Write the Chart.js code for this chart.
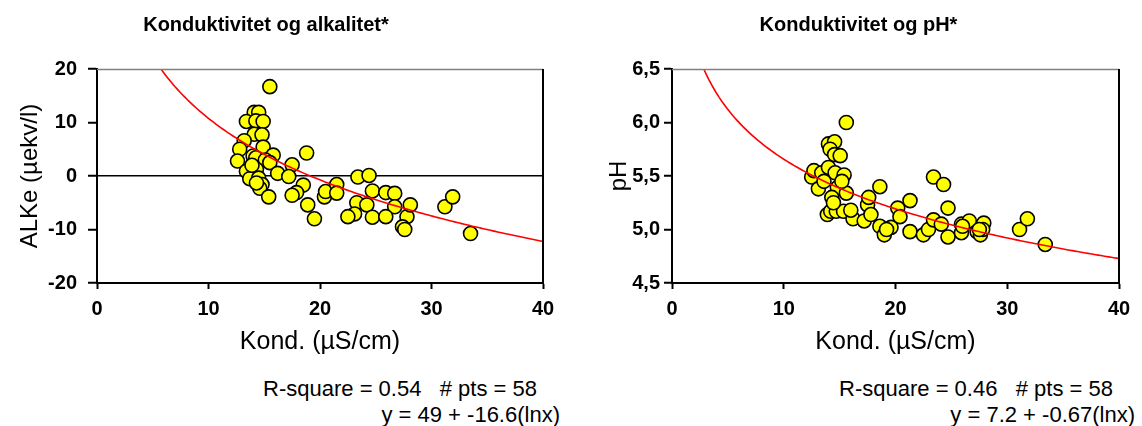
<!DOCTYPE html>
<html>
<head>
<meta charset="utf-8">
<script src="https://cdn.jsdelivr.net/npm/chart.js@4.4.1/dist/chart.umd.min.js"></script>
<style>
  body { margin: 0; background: #fff; width: 1142px; height: 426px; overflow: hidden; position: relative;
         font-family: "Liberation Sans", Arial, sans-serif; }
  .box { position: absolute; top: 0; height: 360px; }
  .note { position: absolute; font-size: 22px; color: #000; white-space: pre; line-height: 26px; text-align: right; }
</style>
</head>
<body>
<div class="box" style="left:-11px; width:566px"><canvas id="alkChart" width="566" height="360"></canvas></div>
<div class="box" style="left:598px; width:544px"><canvas id="phChart" width="544" height="360"></canvas></div>

<div class="note" style="right:605px; top:376px">R-square = 0.54   # pts = 58</div>
<div class="note" style="right:582px; top:402px">y = 49 + -16.6(lnx)</div>
<div class="note" style="right:29px; top:376px">R-square = 0.46   # pts = 58</div>
<div class="note" style="right:7px; top:402px">y = 7.2 + -0.67(lnx)</div>

<script>
// Conductivity (µS/cm) vs. alkalinity ALKe (µekv/l)
const kondAlk = [15.5, 14.1, 14.5, 13.4, 14.25, 14.9, 14.1, 14.8, 13.2, 12.8,
                 14.9, 14.0, 14.25, 15.8, 15.1, 15.5, 12.6, 13.4, 14.3, 13.7,
                 14.5, 14.8, 14.6, 15.4, 16.2, 17.5, 17.2, 18.8, 18.5, 17.9,
                 17.5, 18.9, 19.5, 20.4, 20.5, 21.5, 21.5, 23.4, 24.4, 24.7,
                 23.3, 23.1, 22.5, 24.2, 24.7, 25.9, 26.7, 26.7, 25.9, 27.8,
                 28.1, 27.4, 27.6, 31.2, 31.9, 33.5, 14.3, 13.9];
const alke    = [16.7, 11.9, 11.9, 10.2, 10.3, 10.2, 7.8, 7.7, 6.6, 5.0,
                 5.4, 3.75, 3.4, 3.9, 3.0, 2.5, 2.8, 0.9, 1.25, -0.5,
                 -0.4, -1.6, -2.3, -3.9, 0.5, 2.1, -0.1, 4.3, -1.7, -3.1,
                 -3.6, -5.4, -8.0, -3.9, -2.9, -1.6, -3.2, -0.2, 0.1, -2.8,
                 -5.0, -7.1, -7.6, -5.4, -7.7, -3.1, -3.25, -5.75, -7.6, -7.6,
                 -5.4, -9.5, -10.0, -5.75, -3.9, -10.75, -1.3, 2.0];

// Conductivity (µS/cm) vs. pH
const kondPH = [15.6, 14.0, 14.55, 14.15, 14.55, 15.05, 12.5, 12.7, 13.4, 14.0,
                14.6, 15.4, 13.1, 14.8, 15.6, 14.3, 13.9, 14.2, 14.7, 15.35,
                16.2, 17.2, 17.5, 17.6, 17.8, 18.6, 18.6, 19.0, 19.6, 20.2,
                20.4, 21.3, 21.3, 22.5, 22.95, 23.4, 23.4, 24.1, 24.3, 24.7,
                24.7, 25.9, 25.9, 26.6, 27.3, 27.6, 27.9, 27.8, 31.1, 31.8,
                33.4, 14.45, 13.6, 15.2, 16.0, 19.2, 26.0, 27.5];
const ph     = [6.00, 5.80, 5.82, 5.75, 5.70, 5.69, 5.49, 5.55, 5.53, 5.58,
                5.53, 5.51, 5.38, 5.39, 5.34, 5.30, 5.14, 5.17, 5.17, 5.17,
                5.10, 5.08, 5.23, 5.30, 5.14, 5.40, 5.03, 4.95, 5.02, 5.20,
                5.12, 5.27, 4.98, 4.95, 5.00, 5.49, 5.09, 5.05, 5.42, 5.20,
                4.93, 5.05, 4.97, 5.08, 4.98, 4.95, 5.06, 5.00, 5.00, 5.10,
                4.86, 5.25, 5.45, 5.45, 5.18, 5.00, 5.03, 5.00];

// Logarithmic fits y = a + b*ln(x) as given under each chart
const fitAlk = { a: 49, b: -16.6 };
const fitPH  = { a: 7.2, b: -0.67 };

// Axis ranges and tick labels
const xTicks = [0, 10, 20, 30, 40];
const alkTicks = [-20, -10, 0, 10, 20];
const phTicks = [4.5, 5.0, 5.5, 6.0, 6.5];

const FONT = '"Liberation Sans", Arial, sans-serif';

function curve(fit, yMax, xMax) {
  const x0 = Math.exp((yMax - fit.a) / fit.b);
  const pts = [];
  const n = 160;
  for (let i = 0; i <= n; i++) {
    const x = x0 + (xMax - x0) * i / n;
    pts.push({ x: x, y: fit.a + fit.b * Math.log(x) });
  }
  return pts;
}

function toPoints(xs, ys) { return xs.map((x, i) => ({ x: x, y: ys[i] })); }

// Plot-area frame: thin grey top edge and black right edge
const framePlugin = {
  id: 'frame',
  afterDraw(chart) {
    const { ctx, chartArea: a } = chart;
    ctx.save();
    ctx.strokeStyle = '#808080';
    ctx.lineWidth = 1.5;
    ctx.beginPath();
    ctx.moveTo(a.left, a.top + 0.5);
    ctx.lineTo(a.right, a.top + 0.5);
    ctx.stroke();
    ctx.strokeStyle = '#000';
    ctx.lineWidth = 2;
    ctx.beginPath();
    ctx.moveTo(a.right, a.top);
    ctx.lineTo(a.right, a.bottom);
    ctx.stroke();
    ctx.restore();
  }
};

function makeChart(id, cfg) {
  const yTicks = cfg.yTicks;
  return new Chart(document.getElementById(id), {
    type: 'scatter',
    data: {
      datasets: [
        {
          data: curve(cfg.fit, yTicks[yTicks.length - 1], xTicks[xTicks.length - 1]),
          showLine: true,
          borderColor: '#ff0000',
          borderWidth: 1.6,
          pointRadius: 0,
          fill: false,
          tension: 0
        },
        {
          data: toPoints(cfg.xs, cfg.ys),
          pointRadius: 7,
          pointBackgroundColor: '#ffff00',
          pointBorderColor: '#000',
          pointBorderWidth: 1.6,
          showLine: false
        }
      ]
    },
    options: {
      responsive: false,
      animation: false,
      layout: { padding: { left: 0, right: cfg.padRight, top: 0, bottom: 0 } },
      plugins: {
        legend: { display: false },
        tooltip: { enabled: false },
        title: {
          display: true,
          text: cfg.title,
          color: '#000',
          font: { family: FONT, size: 20, weight: 'bold', lineHeight: 1.2 },
          padding: { top: 13, bottom: 32 }
        }
      },
      scales: {
        x: {
          type: 'linear',
          min: xTicks[0],
          max: xTicks[xTicks.length - 1],
          afterBuildTicks: s => { s.ticks = xTicks.map(v => ({ value: v })); },
          ticks: {
            color: '#000',
            font: { family: FONT, size: 20, weight: 'bold' },
            padding: 8,
            maxRotation: 0,
            callback: v => String(v)
          },
          grid: { drawOnChartArea: false, tickLength: 6, tickColor: '#000', tickWidth: 2 },
          border: { color: '#000', width: 2 },
          title: {
            display: true,
            text: 'Kond. (µS/cm)',
            color: '#000',
            font: { family: FONT, size: 25, lineHeight: 1.2 },
            padding: { top: 0, bottom: 3 }
          },
          afterFit: s => { s.height = 77; s.paddingLeft = 0; s.paddingRight = 0; }
        },
        y: {
          type: 'linear',
          min: yTicks[0],
          max: yTicks[yTicks.length - 1],
          afterBuildTicks: s => { s.ticks = yTicks.map(v => ({ value: v })); },
          ticks: {
            color: '#000',
            font: { family: FONT, size: 20, weight: 'bold' },
            padding: cfg.tickPad,
            callback: cfg.fmt
          },
          grid: {
            drawOnChartArea: cfg.zeroLine,
            color: c => (cfg.zeroLine && c.tick && c.tick.value === 0) ? '#000' : 'rgba(0,0,0,0)',
            lineWidth: 1.5,
            tickLength: cfg.tickLen,
            tickColor: '#000',
            tickWidth: 2
          },
          border: { color: '#000', width: 2 },
          title: {
            display: true,
            text: cfg.yTitle,
            color: '#000',
            font: { family: FONT, size: 24, lineHeight: 1.2 },
            padding: { top: cfg.yTitlePad, bottom: 0 }
          },
          afterFit: s => { s.width = cfg.yWidth; s.paddingTop = 0; s.paddingBottom = 0; }
        }
      }
    },
    plugins: [framePlugin]
  });
}

makeChart('alkChart', {
  title: 'Konduktivitet og alkalitet*',
  yTitle: 'ALKe (µekv/l)',
  xs: kondAlk, ys: alke, fit: fitAlk,
  yTicks: alkTicks,
  fmt: v => String(v),
  zeroLine: true,
  yWidth: 108, padRight: 12, yTitlePad: 26.6, tickLen: 9, tickPad: 11
});

makeChart('phChart', {
  title: 'Konduktivitet og pH*',
  yTitle: 'pH',
  xs: kondPH, ys: ph, fit: fitPH,
  yTicks: phTicks,
  fmt: v => v.toFixed(1).replace('.', ','),
  zeroLine: false,
  yWidth: 74, padRight: 23, yTitlePad: 7, tickLen: 8, tickPad: 4
});
</script>
</body>
</html>
